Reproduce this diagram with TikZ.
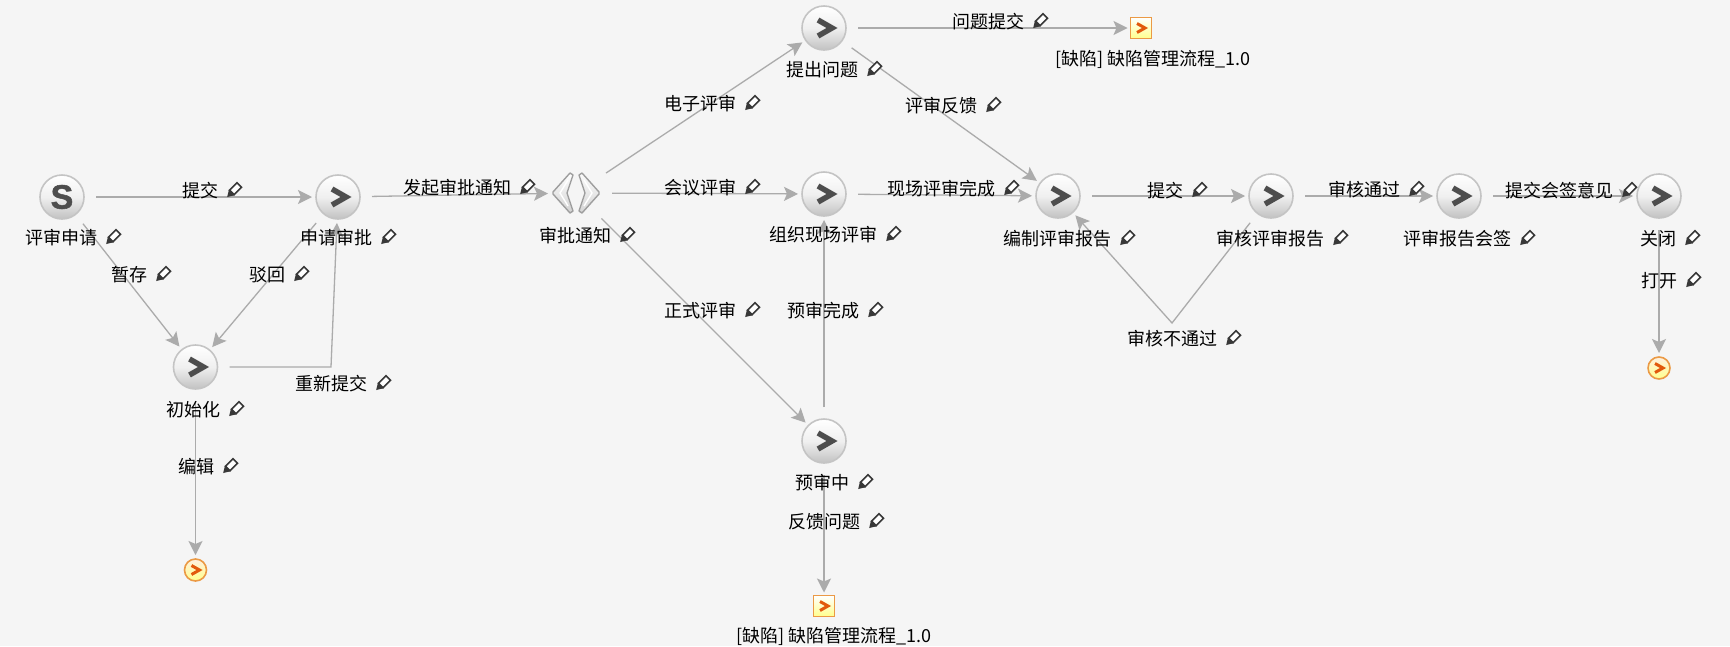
\documentclass[tikz,border=0pt]{standalone}
\usepackage{fontspec}
\setmainfont{Noto Sans CJK SC}
\newfontfamily\iconfont[FakeBold=1.5]{Liberation Sans}
\usetikzlibrary{arrows.meta}
\definecolor{bgcol}{HTML}{F5F5F5}
\definecolor{linecol}{HTML}{ABABAB}
\definecolor{ringcol}{HTML}{C4C4C4}
\definecolor{markcol}{HTML}{4D4D4D}
\definecolor{ordcol}{HTML}{EB9A45}
\definecolor{redcol}{HTML}{E2590C}
\tikzset{
  ball/.style={circle,draw=ringcol,line width=1.6pt,minimum size=44pt,inner sep=0pt,outer sep=4pt,
    top color=white,bottom color=black!24,middle color=black!6},
  taskball/.style={ball,path picture={
    \draw[markcol,line width=5.5pt,miter limit=4] (-6,-8) -- (8,0) -- (-6,8);}},
  startball/.style={ball,text=markcol,font=\iconfont\fontsize{34}{34}\selectfont\bfseries},
  gate/.style={circle,minimum size=48pt,inner sep=0pt,outer sep=4pt,path picture={
    \draw[black!38,line width=1.4pt,line join=round,top color=white,bottom color=black!18]
      (3,-18) -- (6,-20) -- (23,-1) -- (23,1) -- (6,20) -- (3,18) -- (9,0) -- cycle;
    \draw[black!38,line width=1.4pt,line join=round,top color=white,bottom color=black!18]
      (-3,-18) -- (-6,-20) -- (-23,-1) -- (-23,1) -- (-6,20) -- (-3,18) -- (-9,0) -- cycle;
    \draw[white,line width=1.4pt] (8,-13) -- (16,0) -- (8,13);
    \draw[white,line width=1.4pt] (-8,-13) -- (-16,0) -- (-8,13);}},
  subflow/.style={rectangle,draw=ordcol,line width=1.4pt,minimum size=21pt,inner sep=0pt,outer sep=3pt,
    top color=white,bottom color=yellow!45,path picture={
    \draw[redcol,line width=3pt,miter limit=4] (-4,-4.5) -- (4,0) -- (-4,4.5);}},
  finish/.style={circle,draw=ordcol,line width=1.6pt,minimum size=22pt,inner sep=0pt,outer sep=4pt,
    top color=orange!12,bottom color=yellow!45,path picture={
    \draw[redcol,line width=3pt,miter limit=4] (-4,-4.5) -- (4,0) -- (-4,4.5);}},
  lbl/.style={inner sep=0pt,text=black,font=\fontsize{18}{20}\selectfont},
  flow/.style={draw=linecol,line width=1.3pt,shorten <=8pt,
    -{Stealth[length=14pt,width=14pt,inset=3pt,fill=linecol]}},
  pencil/.pic={
    \begin{scope}[rotate=45]
      \draw[black!78,fill=white,line width=1.6pt] (-2,-3.2) rectangle (8.5,3.2);
      \fill[black!78] (-8.5,0) -- (-2,-4) -- (-2,4) -- cycle;
    \end{scope}}
}
\begin{document}
\begin{tikzpicture}[x=1pt,y=-1pt]
  \useasboundingbox[fill=bgcol] (0,0) rectangle (1730,646);
  % steps
  \node[startball] (apply) at (62,197) {S};
  \node[taskball] (approve) at (338,197) {};
  \node[taskball] (init) at (195.5,367) {};
  \node[finish] (endleft) at (195.5,570) {};
  \node[gate] (notice) at (576,193) {};
  \node[taskball] (issue) at (824,28) {};
  \node[subflow] (defecttop) at (1141,28) {};
  \node[taskball] (meeting) at (824,194) {};
  \node[taskball] (pre) at (824,441) {};
  \node[subflow] (defectlow) at (824,606) {};
  \node[taskball] (draft) at (1058,196) {};
  \node[taskball] (audit) at (1271,196) {};
  \node[taskball] (sign) at (1459,196) {};
  \node[taskball] (close) at (1659,196) {};
  \node[finish] (endright) at (1659,368) {};
  \coordinate (resubmit) at (331,367);
  \coordinate (notpass) at (1172,323);
  % connectors
  \draw[flow] (apply) -- (approve);
  \draw[flow] (apply) -- (init);
  \draw[flow] (approve) -- (init);
  \draw[flow] (init) -- (resubmit) -- (approve);
  \draw[flow] (init) -- (endleft);
  \draw[flow] (approve) -- (notice);
  \draw[flow] (notice) -- (issue);
  \draw[flow] (notice) -- (meeting);
  \draw[flow] (notice) -- (pre);
  \draw[flow] (issue) -- (defecttop);
  \draw[flow] (issue) -- (draft);
  \draw[flow] (meeting) -- (draft);
  \draw[flow] (pre) -- (meeting);
  \draw[flow] (pre) -- (defectlow);
  \draw[flow] (draft) -- (audit);
  \draw[flow] (audit) -- (notpass) -- (draft);
  \draw[flow] (audit) -- (sign);
  \draw[flow] (sign) -- (close);
  \draw[flow] (close) -- (endright);
  % labels
  \node[lbl] (t1) at (61,238) {评审申请}; \pic at ([xshift=15pt]t1.east) {pencil};
  \node[lbl] (t2) at (336,238) {申请审批}; \pic at ([xshift=15pt]t2.east) {pencil};
  \node[lbl] (t3) at (193,410) {初始化}; \pic at ([xshift=15pt]t3.east) {pencil};
  \node[lbl] (t4) at (575,236) {审批通知}; \pic at ([xshift=15pt]t4.east) {pencil};
  \node[lbl] (t5) at (822,70) {提出问题}; \pic at ([xshift=15pt]t5.east) {pencil};
  \node[lbl] (t6) at (823,235) {组织现场评审}; \pic at ([xshift=15pt]t6.east) {pencil};
  \node[lbl] (t7) at (822,483) {预审中}; \pic at ([xshift=15pt]t7.east) {pencil};
  \node[lbl] (t8) at (1057,239) {编制评审报告}; \pic at ([xshift=15pt]t8.east) {pencil};
  \node[lbl] (t9) at (1270,239) {审核评审报告}; \pic at ([xshift=15pt]t9.east) {pencil};
  \node[lbl] (t10) at (1457,239) {评审报告会签}; \pic at ([xshift=15pt]t10.east) {pencil};
  \node[lbl] (t11) at (1658,239) {关闭}; \pic at ([xshift=15pt]t11.east) {pencil};
  \node[lbl] (e1) at (200,191) {提交}; \pic at ([xshift=15pt]e1.east) {pencil};
  \node[lbl] (e2) at (129,275) {暂存}; \pic at ([xshift=15pt]e2.east) {pencil};
  \node[lbl] (e3) at (267,275) {驳回}; \pic at ([xshift=15pt]e3.east) {pencil};
  \node[lbl] (e4) at (331,384) {重新提交}; \pic at ([xshift=15pt]e4.east) {pencil};
  \node[lbl] (e5) at (196,467) {编辑}; \pic at ([xshift=15pt]e5.east) {pencil};
  \node[lbl] (e6) at (457,188) {发起审批通知}; \pic at ([xshift=15pt]e6.east) {pencil};
  \node[lbl] (e7) at (700,104) {电子评审}; \pic at ([xshift=15pt]e7.east) {pencil};
  \node[lbl] (e8) at (700,188) {会议评审}; \pic at ([xshift=15pt]e8.east) {pencil};
  \node[lbl] (e9) at (700,311) {正式评审}; \pic at ([xshift=15pt]e9.east) {pencil};
  \node[lbl] (e10) at (988,22) {问题提交}; \pic at ([xshift=15pt]e10.east) {pencil};
  \node[lbl] (e11) at (941,106) {评审反馈}; \pic at ([xshift=15pt]e11.east) {pencil};
  \node[lbl] (e12) at (941,189) {现场评审完成}; \pic at ([xshift=15pt]e12.east) {pencil};
  \node[lbl] (e13) at (823,311) {预审完成}; \pic at ([xshift=15pt]e13.east) {pencil};
  \node[lbl] (e14) at (824,522) {反馈问题}; \pic at ([xshift=15pt]e14.east) {pencil};
  \node[lbl] (e15) at (1165,191) {提交}; \pic at ([xshift=15pt]e15.east) {pencil};
  \node[lbl] (e16) at (1172,339) {审核不通过}; \pic at ([xshift=15pt]e16.east) {pencil};
  \node[lbl] (e17) at (1364,190) {审核通过}; \pic at ([xshift=15pt]e17.east) {pencil};
  \node[lbl] (e18) at (1559,191) {提交会签意见}; \pic at ([xshift=15pt]e18.east) {pencil};
  \node[lbl] (e19) at (1659,281) {打开}; \pic at ([xshift=15pt]e19.east) {pencil};
  \node[lbl] (s1) at (1153,59) {[缺陷] 缺陷管理流程\_1.0};
  \node[lbl] (s2) at (834,636) {[缺陷] 缺陷管理流程\_1.0};
\end{tikzpicture}
\end{document}
